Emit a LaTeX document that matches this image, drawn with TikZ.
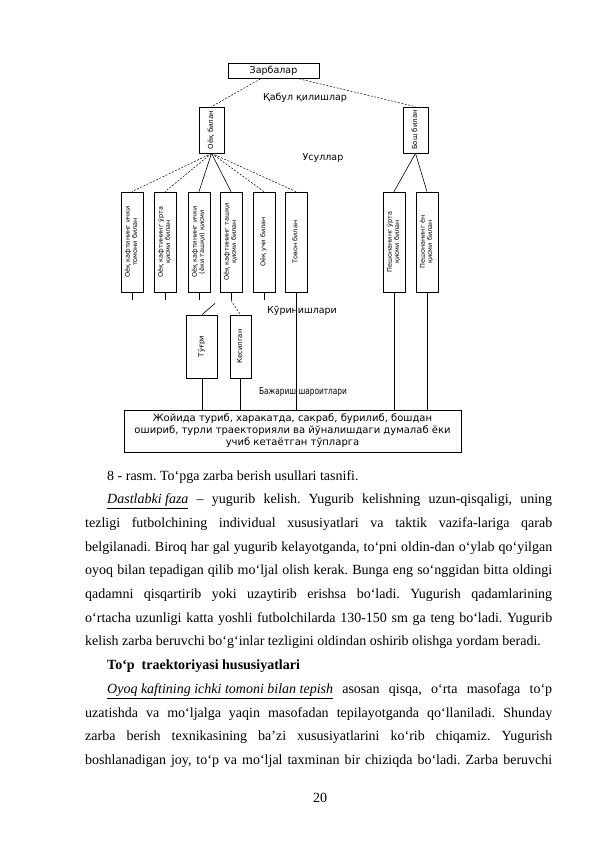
\documentclass[tikz,border=0pt]{standalone}
\usepackage{fontspec}
\setmainfont{Liberation Serif}
\newfontfamily\dgfont{DejaVu Sans}
\usepackage{graphicx}
\frenchspacing

% rotated two-line label inside a tall box
\newcommand{\vlab}[1]{\rotatebox{90}{\begin{tabular}{@{}c@{}}#1\end{tabular}}}
% one justified line of body text
\newcommand{\jl}[2]{\makebox[#1][s]{#2}}

\begin{document}
\begin{tikzpicture}[x=1pt, y=-1pt,
    box/.style={draw, line width=0.7pt, inner sep=0pt, font=\dgfont\fontsize{6.5}{7.2}\selectfont},
    kbox/.style={box, minimum width=22pt, minimum height=100pt},
    lbl/.style={font=\dgfont\fontsize{9.5}{11}\selectfont, inner sep=0pt},
    dline/.style={line width=0.5pt, dash pattern=on 2pt off 1.5pt},
    sline/.style={line width=0.6pt},
    txt/.style={anchor=base west, inner sep=0pt, font=\fontsize{14}{16}\selectfont},
  ]
  \useasboundingbox (0,0) rectangle (595,842);

  % top of the tree
  \node[box, minimum width=91pt, minimum height=15pt, font=\dgfont\fontsize{9.5}{11}\selectfont] (zarb) at (273.5,71) {Зарбалар};
  \node[box, minimum width=25pt, minimum height=46pt, font=\dgfont\fontsize{7}{8}\selectfont] (oyoq) at (211.5,130) {\vlab{Оёқ билан}};
  \node[box, minimum width=25pt, minimum height=46pt, font=\dgfont\fontsize{7}{8}\selectfont] (bosh) at (415.5,130) {\vlab{Бош билан}};
  \node[lbl] (qabul) at (305,98) {Қабул қилишлар};
  \node[lbl] (usul) at (323,158) {Усуллар};

  % methods
  \node[kbox] (b1) at (132,242) {\vlab{Оёқ кафтининг ички\\томони билан}};
  \node[kbox] (b2) at (165,242) {\vlab{Оёқ кафтининг ўрта\\қисми билан}};
  \node[kbox] (b3) at (199,242) {\vlab{Оёқ кафтининг ички\\(ёки ташқи) қисми}};
  \node[kbox] (b4) at (231,242) {\vlab{Оёқ кафтининг ташқи\\қисми билан}};
  \node[kbox] (b5) at (264,242) {\vlab{Оёқ учи билан}};
  \node[kbox] (b6) at (296,242) {\vlab{Товон билан}};
  \node[kbox] (b7) at (394,242) {\vlab{Пешонанинг ўрта\\қисми билан}};
  \node[kbox] (b8) at (427,242) {\vlab{Пешонанинг ён\\қисми билан}};

  % kinds
  \node[lbl] (kurin) at (302,311) {Кўринишлари};
  \node[box, minimum width=31pt, minimum height=63pt, font=\dgfont\fontsize{7}{8}\selectfont] (togri) at (202,346.5) {\vlab{Тўғри}};
  \node[box, minimum width=21pt, minimum height=63pt, font=\dgfont\fontsize{7}{8}\selectfont] (kesil) at (240.5,346.5) {\vlab{Кесилган}};

  % conditions
  \node[lbl] (bajar) at (303,392) {\scalebox{0.78}[1]{Бажариш шароитлари}};
  \node[box, minimum width=337pt, minimum height=42pt, align=center, font=\dgfont\fontsize{10}{12}\selectfont] (shart) at (292.5,431)
    {Жойида туриб, харакатда, сакраб, бурилиб, бошдан\\ошириб, турли траекторияли ва йўналишдаги думалаб ёки\\учиб кетаётган тўпларга};

  % connectors
  \draw[dline] (zarb.211) -- (oyoq.north);
  \draw[dline] (zarb.343) -- (bosh.north);
  \foreach \b/\st in {b1/dline, b2/dline, b3/sline, b4/sline, b5/dline, b6/dline}
    \draw[\st] (oyoq.south) -- (\b.north);
  \foreach \b in {b7, b8}
    \draw[sline] (bosh.south) -- (\b.north);
  \foreach \b in {b1, b2, b3, b4, b5}
    \draw[sline] (\b.south) -- ++(0,8) coordinate (\b-s);
  \draw[sline] (b3-s) ++(16,3) coordinate (t3) (t3) -- (togri.north);
  \draw[dline] (b4-s) -- (kesil.north);
  \foreach \b in {togri, kesil, b6, b7, b8}
    \draw[sline] (\b.south) -- (\b.south |- shart.north);

  % body text
  \node[txt] (l0) at (107,480) {8 - rasm. To‘pga zarba berish usullari tasnifi.};
  \node[txt] (l1) at (107,503.7) {\jl{445pt}{\underline{\textit{Dastlabki faza}} – yugurib kelish. Yugurib kelishning uzun-qisqaligi, uning}};
  \node[txt] (l2) at (85,527.4) {\jl{467pt}{tezligi futbolchining individual xususiyatlari va taktik vazifa-lariga qarab}};
  \node[txt] (l3) at (85,551.1) {\jl{467pt}{belgilanadi. Biroq har gal yugurib kelayotganda, to‘pni oldin-dan o‘ylab qo‘yilgan}};
  \node[txt] (l4) at (85,574.8) {\jl{467pt}{oyoq bilan tepadigan qilib mo‘ljal olish kerak. Bunga eng so‘nggidan bitta oldingi}};
  \node[txt] (l5) at (85,598.5) {\jl{467pt}{qadamni qisqartirib yoki uzaytirib erishsa bo‘ladi. Yugurish qadamlarining}};
  \node[txt] (l6) at (85,622.2) {\jl{467pt}{o‘rtacha uzunligi katta yoshli futbolchilarda 130-150 sm ga teng bo‘ladi. Yugurib}};
  \node[txt] (l7) at (85,645.9) {kelish zarba beruvchi bo‘g‘inlar tezligini oldindan oshirib olishga yordam beradi.};
  \node[txt, font=\fontsize{14}{16}\selectfont\bfseries] (l8) at (107,669.6) {To‘p\ \ traektoriyasi hususiyatlari};
  \node[txt] (l9) at (107,693.3) {\jl{445pt}{\underline{\textit{Oyoq kaftining ichki tomoni bilan tepish}} asosan qisqa, o‘rta masofaga to‘p}};
  \node[txt] (l10) at (85,717) {\jl{467pt}{uzatishda va mo‘ljalga yaqin masofadan tepilayotganda qo‘llaniladi. Shunday}};
  \node[txt] (l11) at (85,740.7) {\jl{467pt}{zarba berish texnikasining ba’zi xususiyatlarini ko‘rib chiqamiz. Yugurish}};
  \node[txt] (l12) at (85,764.4) {\jl{467pt}{boshlanadigan joy, to‘p va mo‘ljal taxminan bir chiziqda bo‘ladi. Zarba beruvchi}};
  \node[txt, anchor=base] (pnum) at (320,802) {20};
\end{tikzpicture}
\end{document}
